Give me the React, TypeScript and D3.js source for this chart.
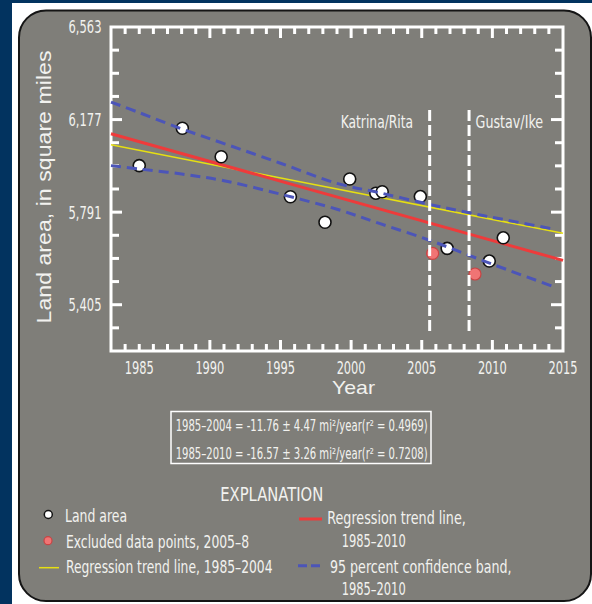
import React from 'react';
import * as d3 from 'd3';

// ---- data ----
const landYears = [1985.0, 1988.05, 1990.8, 1995.7, 1998.15, 1999.9, 2001.75, 2002.2, 2004.9, 2006.8, 2009.78, 2010.77];
const landArea = [5985, 6141, 6022, 5855, 5749, 5929, 5870, 5876, 5856, 5640, 5587, 5684];
const excludedYears = [2005.77, 2008.77];
const excludedArea = [5619, 5533];
const trendYears = [1983, 2015];
const trend2010 = [6118, 5590];
const trend2004 = [6072, 5703];
const bandYears = [1983, 1985, 1988, 1991, 1995, 1999, 2002, 2005.5, 2008.3, 2011, 2014.4];
const bandUpper = [6250, 6206, 6138, 6077, 5995, 5911, 5872, 5824, 5789, 5758, 5720];
const bandLower = [5985, 5971, 5950, 5922, 5866, 5803, 5744, 5675, 5612, 5552, 5479];
const hurricaneYears = [2005.56, 2008.35];
const hurricaneLabels = ['Katrina/Rita', 'Gustav/Ike'];
const yMajorTicks = [5405, 5791, 6177, 6563];
const yTickStep = 96.5;
const xLabelTicks = [1985, 1990, 1995, 2000, 2005, 2010, 2015];
const xMajorTicks = [1990, 1995, 2000, 2005, 2010];
const equations = [
  { period: '1985–2004', slope: '-11.76', err: '4.47', r2: '0.4969' },
  { period: '1985–2010', slope: '-16.57', err: '3.26', r2: '0.7208' },
];

const W = 592;
const H = 604;
const FONT = "'Liberation Sans Narrow','DejaVu Sans Condensed','Roboto Condensed','Liberation Sans',sans-serif";
const FONT_R = "'Liberation Sans','Roboto',sans-serif";
const TXT = '#f2f2ef';
const GRAY = '#7f7e79';
const NAVY = '#02335f';
const BLUE = '#4c55b8';
const RED = '#ee3b3b';
const YEL = '#e6df12';

export default function App() {
  const x = d3.scaleLinear().domain([1983, 2015]).range([111, 563]);
  const y = d3.scaleLinear().domain([5212, 6563]).range([351, 27]);
  const [x0, x1] = x.range();
  const [y1, y0] = y.range();

  const line2 = d3.line<number>().x((_, i) => x(trendYears[i])).y((d) => y(d));
  const bandLine = d3
    .line<number>()
    .x((_, i) => x(bandYears[i]))
    .y((d) => y(d))
    .curve(d3.curveCatmullRom);

  const yMinor = d3.range(5212 + yTickStep, 6563 - 1, yTickStep).filter((v) => !yMajorTicks.some((m) => Math.abs(m - v) < 1));
  const xYears = d3.range(1984, 2015);
  const fmt = d3.format(',');

  return (
    <svg width={W} height={H} style={{ position: 'absolute', left: 0, top: 0, display: 'block' }}>
      <rect x={0} y={0} width={W} height={H} fill={NAVY} />
      <rect x={12} y={3} width={W - 12} height={H - 3} fill="#ffffff" />
      <rect x={19} y={10.5} width={572} height={590.5} rx={27} ry={27} fill={GRAY} stroke="#151515" strokeWidth={2} />

      {/* frame */}
      <rect x={x0} y={y0} width={x1 - x0} height={y1 - y0} fill="none" stroke="#fff" strokeWidth={3} />

      {/* y ticks left/right */}
      {yMajorTicks.filter((v) => v < 6563).map((v) => (
        <g key={'ym' + v}>
          <line x1={x0} x2={x0 + 11} y1={y(v)} y2={y(v)} stroke="#fff" strokeWidth={3} />
          <line x1={x1} x2={x1 - 12} y1={y(v)} y2={y(v)} stroke="#fff" strokeWidth={3} />
        </g>
      ))}
      {yMinor.map((v) => (
        <g key={'yn' + v}>
          <line x1={x0} x2={x0 + 8} y1={y(v)} y2={y(v)} stroke="#fff" strokeWidth={3} />
          <line x1={x1} x2={x1 - 8} y1={y(v)} y2={y(v)} stroke="#fff" strokeWidth={3} />
        </g>
      ))}
      {/* x ticks top/bottom */}
      {xYears.map((yr) => {
        const len = xMajorTicks.includes(yr) ? 11 : 7;
        return (
          <g key={'x' + yr}>
            <line x1={x(yr)} x2={x(yr)} y1={y0} y2={y0 + len} stroke="#fff" strokeWidth={3} />
            <line x1={x(yr)} x2={x(yr)} y1={y1} y2={y1 - len} stroke="#fff" strokeWidth={3} />
          </g>
        );
      })}

      {/* tick labels */}
      {yMajorTicks.map((v) => (
        <text key={'yl' + v} x={101.5} y={y(v)} dy="0.36em" textAnchor="end" fontFamily={FONT} fontSize={18}
          fill={TXT} textLength={33} lengthAdjust="spacingAndGlyphs">{fmt(v)}</text>
      ))}
      {xLabelTicks.map((v) => (
        <text key={'xl' + v} x={x(v)} y={367.5} dy="0.36em" textAnchor="middle" fontFamily={FONT} fontSize={17}
          fill={TXT} textLength={29} lengthAdjust="spacingAndGlyphs">{v}</text>
      ))}

      {/* axis titles */}
      <text x={353.5} y={387.5} dy="0.35em" textAnchor="middle" fontFamily={FONT_R} fontSize={19} fill={TXT}
        textLength={43} lengthAdjust="spacingAndGlyphs">Year</text>
      <text transform="translate(44,187) rotate(-90)" x={0} y={0} dy="0.35em" textAnchor="middle" fontFamily={FONT_R}
        fontSize={20} fill={TXT} textLength={273} lengthAdjust="spacingAndGlyphs">Land area, in square miles</text>

      {/* trend lines */}
      <path d={line2(trend2004) || ''} fill="none" stroke={YEL} strokeWidth={1.5} />
      <path d={line2(trend2010) || ''} fill="none" stroke={RED} strokeWidth={3} />

      {/* points */}
      {landYears.map((yr, i) => (
        <circle key={'p' + i} cx={x(yr)} cy={y(landArea[i])} r={6} fill="#fff" stroke="#111" strokeWidth={1.6} />
      ))}
      {excludedYears.map((yr, i) => (
        <circle key={'e' + i} cx={x(yr)} cy={y(excludedArea[i])} r={6} fill="#f07474" stroke="#c84444" strokeWidth={1.2} />
      ))}

      {/* confidence band */}
      <path d={bandLine(bandUpper) || ''} fill="none" stroke={BLUE} strokeWidth={3} strokeDasharray="10 6" />
      <path d={bandLine(bandLower) || ''} fill="none" stroke={BLUE} strokeWidth={3} strokeDasharray="10 6" />

      {/* hurricane markers */}
      {hurricaneYears.map((yr, i) => (
        <line key={'h' + i} x1={x(yr)} x2={x(yr)} y1={110} y2={332} stroke="#fff" strokeWidth={3} strokeDasharray="11 4" />
      ))}
      <text x={x(hurricaneYears[0]) - 16.5} y={122} dy="0.36em" textAnchor="end" fontFamily={FONT} fontSize={18}
        fill={TXT} textLength={72.5} lengthAdjust="spacingAndGlyphs">{hurricaneLabels[0]}</text>
      <text x={x(hurricaneYears[1]) + 6.5} y={122} dy="0.36em" textAnchor="start" fontFamily={FONT} fontSize={18}
        fill={TXT} textLength={67.5} lengthAdjust="spacingAndGlyphs">{hurricaneLabels[1]}</text>

      {/* equation box */}
      <rect x={171} y={411.5} width={260} height={52} fill="none" stroke="#fff" strokeWidth={1.5} />
      {equations.map((e, i) => (
        <text key={'eq' + i} x={175.7} y={425.7 + i * 27.3} dy="0.36em" fontFamily={FONT} fontSize={15.5} fill={TXT}
          textLength={252} lengthAdjust="spacingAndGlyphs">
          {`${e.period} = ${e.slope} ± ${e.err} mi²/year(r² = ${e.r2})`}
        </text>
      ))}

      {/* explanation */}
      <text x={271.7} y={494} dy="0.36em" textAnchor="middle" fontFamily={FONT} fontSize={19} fill={TXT}
        textLength={103} lengthAdjust="spacingAndGlyphs">EXPLANATION</text>

      <circle cx={48.3} cy={514.5} r={4} fill="#fff" stroke="#111" strokeWidth={1.5} />
      <text x={65} y={516} dy="0.36em" fontFamily={FONT} fontSize={18} fill={TXT} textLength={62} lengthAdjust="spacingAndGlyphs">Land area</text>

      <circle cx={48} cy={540.7} r={4} fill="#f07474" stroke="#c84444" strokeWidth={1.2} />
      <text x={66} y={541.5} dy="0.36em" fontFamily={FONT} fontSize={18} fill={TXT} textLength={183} lengthAdjust="spacingAndGlyphs">Excluded data points, 2005–8</text>

      <line x1={39} x2={59} y1={567.7} y2={567.7} stroke={YEL} strokeWidth={1.5} />
      <text x={66} y={566.5} dy="0.36em" fontFamily={FONT} fontSize={18} fill={TXT} textLength={206.5} lengthAdjust="spacingAndGlyphs">Regression trend line, 1985–2004</text>

      <line x1={299} x2={322} y1={519} y2={519} stroke={RED} strokeWidth={3} />
      <text x={327.3} y={517.5} dy="0.36em" fontFamily={FONT} fontSize={18} fill={TXT} textLength={138.5} lengthAdjust="spacingAndGlyphs">Regression trend line,</text>
      <text x={341.7} y={541} dy="0.36em" fontFamily={FONT} fontSize={18} fill={TXT} textLength={64} lengthAdjust="spacingAndGlyphs">1985–2010</text>

      <line x1={298} x2={320} y1={565.7} y2={565.7} stroke={BLUE} strokeWidth={3} strokeDasharray="9 4" />
      <text x={330} y={566.5} dy="0.36em" fontFamily={FONT} fontSize={18} fill={TXT} textLength={181.5} lengthAdjust="spacingAndGlyphs">95 percent confidence band,</text>
      <text x={341.7} y={589} dy="0.36em" fontFamily={FONT} fontSize={18} fill={TXT} textLength={64} lengthAdjust="spacingAndGlyphs">1985–2010</text>
    </svg>
  );
}
